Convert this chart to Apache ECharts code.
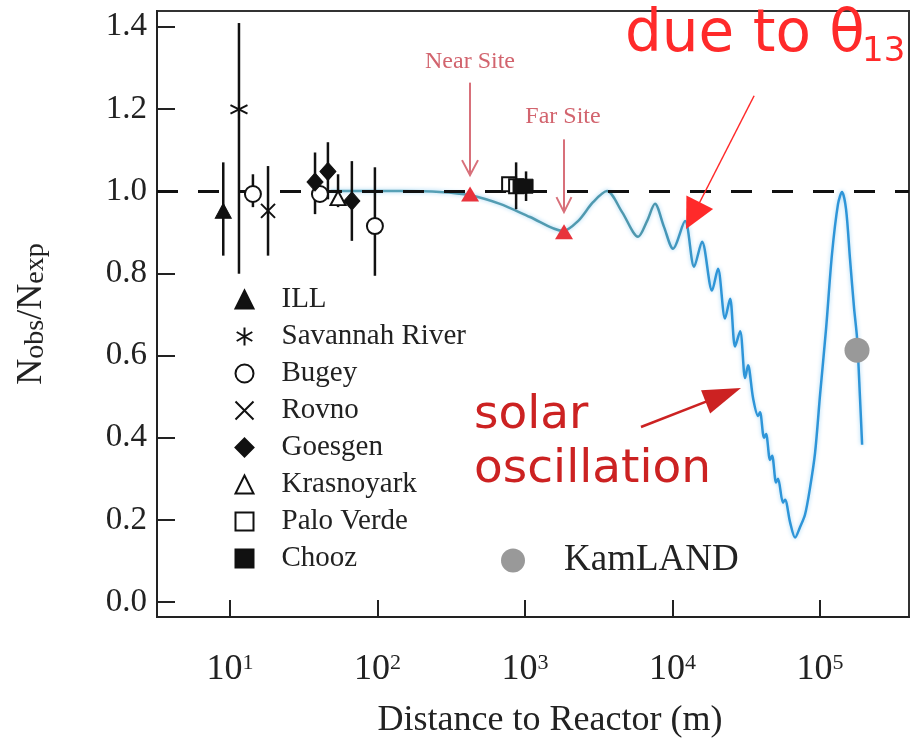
<!DOCTYPE html>
<html>
<head>
<meta charset="utf-8">
<script src="https://cdn.jsdelivr.net/npm/echarts@6/dist/echarts.min.js"></script>
<style>
html,body{margin:0;padding:0;background:#fff;}
#chart{width:912px;height:744px;}
</style>
</head>
<body>
<div id="chart"></div>
<script>
// ---------------- data (distance in metres, ratio Nobs/Nexp) ----------------
const expNames = ['ILL', 'Savannah River', 'Bugey', 'Rovno', 'Goesgen', 'Krasnoyark', 'Palo Verde', 'Chooz'];

const illDist = [9.0], illRatio = [0.952], illLo = [0.843], illHi = [1.070];
const srDist = [11.5], srRatio = [1.199], srLo = [0.799], srHi = [1.409];
const bugeyDist = [14.3, 40.7, 96], bugeyRatio = [0.993, 0.993, 0.915], bugeyLo = [0.961, null, 0.794], bugeyHi = [1.041, null, 1.058];
const rovnoDist = [18.1], rovnoRatio = [0.952], rovnoLo = [0.843], rovnoHi = [1.061];
const goesgenDist = [37.7, 46.1, 67], goesgenRatio = [1.022, 1.048, 0.976], goesgenLo = [0.944, 0.980, 0.879], goesgenHi = [1.094, 1.119, 1.073];
const krasDist = [54], krasRatio = [0.983], krasLo = [0.961], krasHi = [1.041];
const pvDist = [780, 870], pvRatio = [1.017, 1.012], pvLo = [null, 0.956], pvHi = [null, 1.070];
const choozDist = [925, 1016], choozRatio = [1.012, 1.012], choozLo = [null, 0.976], choozHi = [null, 1.048];

const siteDist = [424, 1838], siteRatio = [0.993, 0.901];
const kamDist = [178000], kamRatio = [0.613];

const curveDist = [48, 142, 265, 424, 676, 1081, 1811, 2286, 2891, 3594, 4550, 5840, 6714, 7600, 8750, 10070,
  12160, 14000, 15850, 18530, 20320, 22700, 24550, 26550, 28700, 31050, 32500, 35160, 38000, 39170, 41700, 43050,
  45800, 47300, 50350, 51900, 56100, 57900, 62650, 67750, 73100, 79100, 85500, 92500, 100000, 109900, 120500,
  132400, 140900, 150000, 159600, 170200, 178200, 186600, 192800];
const curveRatio = [1.000, 1.000, 0.998, 0.990, 0.969, 0.937, 0.903, 0.927, 0.973, 1.000, 0.949, 0.889, 0.927, 0.969, 0.913, 0.860,
  0.927, 0.816, 0.877, 0.758, 0.811, 0.690, 0.738, 0.622, 0.659, 0.545, 0.576, 0.496, 0.453, 0.462, 0.400, 0.409,
  0.346, 0.356, 0.291, 0.300, 0.242, 0.249, 0.194, 0.157, 0.182, 0.213, 0.278, 0.363, 0.504, 0.666, 0.847,
  0.969, 0.998, 0.956, 0.835, 0.714, 0.642, 0.496, 0.383];

const xTickExp = [1, 2, 3, 4, 5];
const yTicks = [0, 0.2, 0.4, 0.6, 0.8, 1.0, 1.2, 1.4];

// annotation arrows: [log10 distance from, ratio from, log10 distance to (tip), ratio to (tip)]
const arrowCoords = [
  [2.627, 1.264, 2.627, 1.039],   // Near Site
  [3.264, 1.126, 3.264, 0.949],   // Far Site
  [4.553, 1.232, 4.092, 0.908],   // due to theta13
  [3.786, 0.426, 4.464, 0.521]    // solar oscillation
];
const arrowStyles = [
  { color: '#d8707a', width: 2, head: 'open', len: 15, w: 16 },
  { color: '#d8707a', width: 2, head: 'open', len: 15, w: 15 },
  { color: '#ff2a2a', width: 1.5, head: 'filled', len: 30, w: 30 },
  { color: '#cc2222', width: 2.5, head: 'filled', len: 38, w: 25 }
];

// ---------------- helpers ----------------
const SERIF = 'Liberation Serif';
const lg = Math.log10;
function pts(d, r) { return d.map((v, i) => [lg(v), r[i]]); }
function errs(d, lo, hi) {
  const out = [];
  d.forEach((v, i) => { if (lo[i] != null) out.push([lg(v), lo[i], hi[i]]); });
  return out;
}
const errorData = [].concat(
  errs(illDist, illLo, illHi), errs(srDist, srLo, srHi), errs(bugeyDist, bugeyLo, bugeyHi),
  errs(rovnoDist, rovnoLo, rovnoHi), errs(goesgenDist, goesgenLo, goesgenHi), errs(krasDist, krasLo, krasHi),
  errs(pvDist, pvLo, pvHi), errs(choozDist, choozLo, choozHi));

const solid = { color: '#111', borderColor: '#111', borderWidth: 1, opacity: 1 };
const hollow = { color: '#fff', borderColor: '#111', borderWidth: 2, opacity: 1 };
const strokeOnly = { color: 'none', borderColor: '#111', borderWidth: 2, opacity: 1 };

const chart = echarts.init(document.getElementById('chart'), null, { renderer: 'canvas' });

const option = {
  animation: false,
  backgroundColor: '#fff',
  grid: { left: 157, right: 3, top: 11, bottom: 124, show: true, borderColor: '#333', borderWidth: 2 },
  xAxis: {
    type: 'value', min: 0.505, max: 5.603,
    axisLine: { onZero: false, lineStyle: { color: '#222', width: 2 } },
    axisTick: { inside: true, length: 17, customValues: xTickExp, lineStyle: { color: '#222', width: 2 } },
    splitLine: { show: false },
    axisLabel: {
      customValues: xTickExp, margin: 35,
      formatter: v => '{b|10}{s|' + v + '}',
      rich: {
        b: { fontFamily: SERIF, fontSize: 36, color: '#222' },
        s: { fontFamily: SERIF, fontSize: 22, color: '#222', verticalAlign: 'top' }
      }
    },
    name: 'Distance to Reactor (m)', nameLocation: 'middle', nameGap: 86,
    nameTextStyle: { fontFamily: SERIF, fontSize: 36, color: '#222', padding: [0, 0, 0, 34] }
  },
  yAxis: {
    type: 'value', min: -0.0363, max: 1.4383,
    axisLine: { lineStyle: { color: '#222', width: 2 } },
    axisTick: { inside: true, length: 18, customValues: yTicks, lineStyle: { color: '#222', width: 2 } },
    splitLine: { show: false },
    axisLabel: {
      customValues: yTicks, margin: 10,
      formatter: v => v.toFixed(1),
      fontFamily: SERIF, fontSize: 33, color: '#222'
    },
    name: '{a|N}{b|obs}{a|/N}{b|exp}', nameLocation: 'middle', nameGap: 107,
    nameTextStyle: {
      rich: {
        a: { fontFamily: SERIF, fontSize: 36, color: '#222' },
        b: { fontFamily: SERIF, fontSize: 28, color: '#222', verticalAlign: 'bottom' }
      }
    }
  },
  legend: [{
    data: expNames, orient: 'vertical', left: 233, top: 285, padding: 0,
    itemWidth: 18, itemHeight: 18, itemGap: 8, selectedMode: false,
    textStyle: { fontFamily: SERIF, fontSize: 29, lineHeight: 29, color: '#222', padding: [0, 0, 0, 23] }
  }, {
    data: ['KamLAND'], orient: 'vertical', left: 501, top: 542, padding: 0,
    itemWidth: 24, itemHeight: 24, selectedMode: false,
    textStyle: { fontFamily: SERIF, fontSize: 37, lineHeight: 37, color: '#222', padding: [0, 0, 0, 34] }
  }],
  graphic: [
    { type: 'text', x: 470, y: 62, style: { text: 'Near Site', fill: '#d2646e', font: '24px "Liberation Serif"', align: 'center', verticalAlign: 'middle', textAlign: 'center', textVerticalAlign: 'middle' } },
    { type: 'text', x: 563, y: 117, style: { text: 'Far Site', fill: '#d2646e', font: '24px "Liberation Serif"', align: 'center', verticalAlign: 'middle', textAlign: 'center', textVerticalAlign: 'middle' } },
    { type: 'text', x: 625, y: 36, style: { text: 'due to θ', fill: '#ff2a2a', font: '58px "DejaVu Sans"', align: 'left', verticalAlign: 'middle', textAlign: 'left', textVerticalAlign: 'middle' } },
    { type: 'text', x: 862, y: 52, style: { text: '13', fill: '#ff2a2a', font: '34px "DejaVu Sans"', align: 'left', verticalAlign: 'middle', textAlign: 'left', textVerticalAlign: 'middle' } },
    { type: 'text', x: 474, y: 416, style: { text: 'solar', fill: '#cc2222', font: '47px "DejaVu Sans"', align: 'left', verticalAlign: 'middle', textAlign: 'left', textVerticalAlign: 'middle' } },
    { type: 'text', x: 474, y: 470, style: { text: 'oscillation', fill: '#cc2222', font: '47px "DejaVu Sans"', align: 'left', verticalAlign: 'middle', textAlign: 'left', textVerticalAlign: 'middle' } }
  ],
  series: [
    {
      name: 'curve', type: 'line', data: pts(curveDist, curveRatio), showSymbol: false, smooth: 0.3, z: 2,
      lineStyle: {
        width: 2.5,
        color: { type: 'linear', x: 0, y: 0, x2: 1, y2: 0, colorStops: [
          { offset: 0, color: '#5aa3b8' }, { offset: 0.6, color: '#4d97ad' },
          { offset: 0.72, color: '#2e95d8' }, { offset: 1, color: '#2e95d8' }] },
        shadowBlur: 4, shadowColor: 'rgba(90,180,235,0.55)'
      },
      markLine: {
        silent: true, symbol: 'none', animation: false,
        label: { show: false },
        lineStyle: { type: [21, 20], color: '#111', width: 3 },
        data: [{ yAxis: 1 }]
      }
    },
    {
      name: 'arrows', type: 'custom', data: arrowCoords, z: 6,
      encode: { x: [0, 2], y: [1, 3] },
      renderItem: function (params, api) {
        const st = arrowStyles[params.dataIndex];
        const p1 = api.coord([api.value(0), api.value(1)]);
        const p2 = api.coord([api.value(2), api.value(3)]);
        const dx = p2[0] - p1[0], dy = p2[1] - p1[1];
        const L = Math.sqrt(dx * dx + dy * dy);
        const ux = dx / L, uy = dy / L, nx = -uy, ny = ux;
        const bx = p2[0] - ux * st.len, by = p2[1] - uy * st.len;
        const left = [bx + nx * st.w / 2, by + ny * st.w / 2];
        const right = [bx - nx * st.w / 2, by - ny * st.w / 2];
        const children = [];
        if (st.head === 'filled') {
          children.push({ type: 'line', shape: { x1: p1[0], y1: p1[1], x2: bx + ux * 4, y2: by + uy * 4 }, style: { stroke: st.color, lineWidth: st.width } });
          children.push({ type: 'polygon', shape: { points: [p2, left, right] }, style: { fill: st.color } });
        } else {
          children.push({ type: 'line', shape: { x1: p1[0], y1: p1[1], x2: p2[0], y2: p2[1] }, style: { stroke: st.color, lineWidth: st.width } });
          children.push({ type: 'polyline', shape: { points: [left, p2, right] }, style: { stroke: st.color, lineWidth: st.width, fill: null } });
        }
        return { type: 'group', children: children };
      }
    },
    {
      name: 'errors', type: 'custom', data: errorData, z: 3,
      encode: { x: 0, y: [1, 2] },
      renderItem: function (params, api) {
        const x = api.value(0);
        const p1 = api.coord([x, api.value(1)]);
        const p2 = api.coord([x, api.value(2)]);
        return { type: 'line', shape: { x1: p1[0], y1: p1[1], x2: p2[0], y2: p2[1] }, style: { stroke: '#111', lineWidth: 2.5 } };
      }
    },
    { name: 'ILL', type: 'scatter', z: 5, data: pts(illDist, illRatio), symbol: 'triangle', symbolSize: [16, 15], itemStyle: solid },
    { name: 'Savannah River', type: 'scatter', z: 5, data: pts(srDist, srRatio), symbol: 'path://M0,-10L0,10M-8.66,-5L8.66,5M-8.66,5L8.66,-5', symbolSize: 17, itemStyle: strokeOnly },
    { name: 'Bugey', type: 'scatter', z: 5, data: pts(bugeyDist, bugeyRatio), symbol: 'circle', symbolSize: 16, itemStyle: hollow },
    { name: 'Rovno', type: 'scatter', z: 5, data: pts(rovnoDist, rovnoRatio), symbol: 'path://M-1,-1L1,1M-1,1L1,-1', symbolSize: 14, itemStyle: strokeOnly },
    { name: 'Goesgen', type: 'scatter', z: 5, data: pts(goesgenDist, goesgenRatio), symbol: 'diamond', symbolSize: [16, 18], itemStyle: solid },
    { name: 'Krasnoyark', type: 'scatter', z: 5, data: pts(krasDist, krasRatio), symbol: 'triangle', symbolSize: [15, 14], itemStyle: hollow },
    { name: 'Palo Verde', type: 'scatter', z: 5, data: pts(pvDist, pvRatio), symbol: 'rect', symbolSize: 14, itemStyle: hollow },
    { name: 'Chooz', type: 'scatter', z: 5, data: pts(choozDist, choozRatio), symbol: 'rect', symbolSize: 14, itemStyle: solid },
    { name: 'sites', type: 'scatter', z: 5, data: pts(siteDist, siteRatio), symbol: 'triangle', symbolSize: [18, 15], itemStyle: { color: '#e8333c', opacity: 1 } },
    { name: 'KamLAND', type: 'scatter', z: 5, data: pts(kamDist, kamRatio), symbol: 'circle', symbolSize: 25, itemStyle: { color: '#999999', opacity: 1 } }
  ]
};
chart.setOption(option);
</script>
</body>
</html>
